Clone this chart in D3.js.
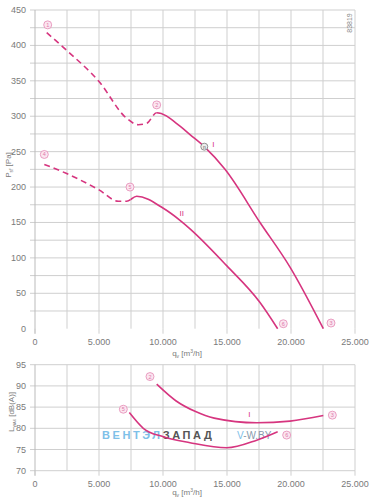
<!DOCTYPE html>
<meta charset="utf-8">
<script src="https://d3js.org/d3.v7.min.js"></script>
<style>
  body { margin: 0; background: #fff; }
  text { font-family: "Liberation Sans", Arial, sans-serif; }
</style>
<div id="chart"></div>
<script>

// pressure curves [q_v m3/h, Pa]; dashed up to the given q_v
var pressI = [[914, 418], [2476, 393], [5000, 349], [7164, 297], [8070, 288], [8726, 290], [9508, 305],
  [11328, 286], [12109, 274], [13227, 257], [14844, 225], [17578, 150], [19922, 87], [22526, 0]];
var pressII = [[727, 232], [2476, 219], [5000, 196], [6508, 180], [7164, 180], [7945, 187],
  [10026, 170], [11328, 153], [12109, 141], [14974, 89], [17578, 37], [18958, 0]];
var dashEnd = [9508, 7450];

// sound curves [q_v m3/h, dB(A)]
var soundI = [[9508, 90.4], [11000, 86.5], [12500, 84.0], [14000, 82.4], [17318, 81.3], [19922, 81.7], [22526, 83.0]];
var soundII = [[7370, 83.7], [8460, 80.0], [10026, 78.0], [12109, 76.6], [14974, 75.4], [17318, 77.2], [18958, 79.2]];

// numbered points
var pressMarks = [[992, 429, "1"], [9508, 316, "2"], [23125, 8, "3"], [727, 246, "4"], [7422, 200, "5"], [19400, 7, "6"]];
var soundMarks = [[8984, 92.2, "2"], [23230, 83.1, "3"], [6900, 84.5, "5"], [19661, 78.4, "6"]];
var pressLabels = [[13930, 261, "I"], [11460, 163, "II"]];
var soundLabels = [[16745, 83.4, "I"]];
var designPoint = [13227, 257];

var xTicks = [0, 5000, 10000, 15000, 20000, 25000];
var pTicks = [0, 50, 100, 150, 200, 250, 300, 350, 400, 450];
var dbTicks = [70, 75, 80, 85, 90, 95];

var width = 371, height = 499;
var pink = "#d6357f", grid = "#cfcfcf", txt = "#7a7a7a";

var loc = d3.formatLocale({decimal: ",", thousands: ".", grouping: [3], currency: ["", ""]});
var fmt = loc.format(",");

var svg = d3.select("#chart").append("svg")
  .attr("width", width)
  .attr("height", height);

var x = d3.scaleLinear().domain([0, 25000]).range([35, 355]);
var yP = d3.scaleLinear().domain([0, 450]).range([328.7, 10]);
var yL = d3.scaleLinear().domain([70, 95]).range([470.7, 364.7]);

function panel(y, ticks, minor, labelOff) {
  var g = svg.append("g");
  // vertical grid every 2500
  g.selectAll(".vg").data(d3.range(2500, 25001, 2500)).enter().append("line")
    .attr("x1", d => x(d)).attr("x2", d => x(d))
    .attr("y1", y.range()[1]).attr("y2", y.range()[0])
    .attr("stroke", grid).attr("stroke-width", 1);
  g.selectAll(".hg").data(minor).enter().append("line")
    .attr("x1", 30).attr("x2", x(25000))
    .attr("y1", d => y(d)).attr("y2", d => y(d))
    .attr("stroke", grid).attr("stroke-width", 1);
  // left axis line
  g.append("line").attr("x1", x(0)).attr("x2", x(0))
    .attr("y1", y.range()[1]).attr("y2", y.range()[0] + 5)
    .attr("stroke", "#bbb");
  g.selectAll(".xt").data(xTicks).enter().append("line")
    .attr("x1", d => x(d)).attr("x2", d => x(d))
    .attr("y1", y.range()[0]).attr("y2", y.range()[0] + 5)
    .attr("stroke", grid);
  g.selectAll(".xl").data(xTicks).enter().append("text")
    .attr("x", d => x(d)).attr("y", y.range()[0] + 16)
    .attr("text-anchor", "middle").attr("font-size", 9).attr("fill", txt)
    .text(d => fmt(d));
  g.selectAll(".yl").data(ticks).enter().append("text")
    .attr("x", 26).attr("y", d => y(d) + 3)
    .attr("text-anchor", "end").attr("font-size", 9).attr("fill", txt)
    .text(d => d);
  // x label
  var xl = g.append("text").attr("x", 187).attr("y", y.range()[0] + labelOff)
    .attr("text-anchor", "middle").attr("font-size", 8).attr("fill", txt);
  xl.append("tspan").text("q");
  xl.append("tspan").attr("font-size", 5).attr("dy", 2).text("v");
  xl.append("tspan").attr("dy", -2).text(" [m");
  xl.append("tspan").attr("font-size", 5).attr("dy", -3).text("3");
  xl.append("tspan").attr("dy", 3).text("/h]");
  return g;
}

panel(yP, pTicks, d3.range(25, 451, 25), 27);
panel(yL, dbTicks, dbTicks, 24);

// y labels
var ypl = svg.append("text").attr("transform", "translate(11,165) rotate(-90)")
  .attr("text-anchor", "middle").attr("font-size", 8).attr("fill", txt);
ypl.append("tspan").text("P");
ypl.append("tspan").attr("font-size", 5).attr("dy", 2).text("sf");
ypl.append("tspan").attr("dy", -2).text(" [Pa]");

var ydl = svg.append("text").attr("transform", "translate(14,412) rotate(-90)")
  .attr("text-anchor", "middle").attr("font-size", 8).attr("fill", txt);
ydl.append("tspan").text("L");
ydl.append("tspan").attr("font-size", 4).attr("dy", 2).text("WA6");
ydl.append("tspan").attr("dy", -2).text(" [dB(A)]");

svg.append("text").attr("transform", "translate(352,23) rotate(-90)")
  .attr("text-anchor", "middle").attr("font-size", 7).attr("fill", "#888")
  .text("83819");

// watermark
var wm = svg.append("text").attr("x", 102).attr("y", 439)
  .attr("font-size", 11).attr("font-weight", "bold").attr("letter-spacing", 2.6);
wm.append("tspan").attr("fill", "#7ec0e8").text("ВЕНТЭЛ");
wm.append("tspan").attr("fill", "#555").text("ЗАПАД");
var wm2 = svg.append("text").attr("x", 237).attr("y", 439).attr("font-size", 10);
wm2.append("tspan").attr("fill", "#7ec0e8").text("V");
wm2.append("tspan").attr("fill", "#8a9aac").text("-W.BY");

// curves: dashed part and solid part of the same path, split by clip rects
var lineP = d3.line().x(d => x(d[0])).y(d => yP(d[1])).curve(d3.curveMonotoneX);
var lineL = d3.line().x(d => x(d[0])).y(d => yL(d[1])).curve(d3.curveMonotoneX);

var defs = svg.append("defs");
[pressI, pressII].forEach(function(d, i) {
  defs.append("clipPath").attr("id", "dash" + i).append("rect")
    .attr("x", 0).attr("y", 0).attr("width", x(dashEnd[i])).attr("height", height);
  defs.append("clipPath").attr("id", "solid" + i).append("rect")
    .attr("x", x(dashEnd[i])).attr("y", 0).attr("width", width).attr("height", height);
  svg.append("path").attr("d", lineP(d)).attr("fill", "none")
    .attr("clip-path", "url(#dash" + i + ")")
    .attr("stroke", pink).attr("stroke-width", 1.6).attr("stroke-dasharray", "6,4");
  svg.append("path").attr("d", lineP(d)).attr("fill", "none")
    .attr("clip-path", "url(#solid" + i + ")")
    .attr("stroke", pink).attr("stroke-width", 1.6);
});
[soundI, soundII].forEach(function(d) {
  svg.append("path").attr("d", lineL(d)).attr("fill", "none")
    .attr("stroke", pink).attr("stroke-width", 1.6);
});

function marks(data, y) {
  var g = svg.append("g").selectAll("g").data(data).enter().append("g")
    .attr("transform", d => "translate(" + x(d[0]) + "," + y(d[1]) + ")");
  g.append("circle").attr("r", 4).attr("fill", "#fbe6f0")
    .attr("stroke", "#e58ab5").attr("stroke-width", 0.8);
  g.append("text").attr("y", 2).attr("text-anchor", "middle")
    .attr("font-size", 5.5).attr("fill", "#e07aab").text(d => d[2]);
}
marks(pressMarks, yP);
marks(soundMarks, yL);

function labels(data, y) {
  svg.append("g").selectAll("text").data(data).enter().append("text")
    .attr("x", d => x(d[0])).attr("y", d => y(d[1]) + 3)
    .attr("text-anchor", "middle").attr("font-size", 8).attr("fill", pink)
    .text(d => d[2]);
}
labels(pressLabels, yP);
labels(soundLabels, yL);

// design point
var dp = svg.append("g").attr("transform", "translate(" + x(designPoint[0]) + "," + yP(designPoint[1]) + ")");
dp.append("circle").attr("r", 3.5).attr("fill", "#eee").attr("stroke", "#777").attr("stroke-width", 0.8);
dp.append("text").attr("y", 2).attr("text-anchor", "middle").attr("font-size", 5).attr("fill", "#555").text("n");

</script>
